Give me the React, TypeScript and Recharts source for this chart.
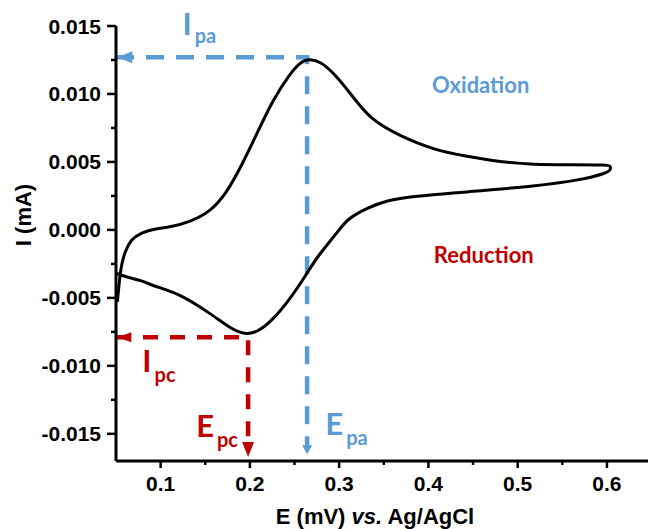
import { LineChart, Line, XAxis, YAxis, ReferenceDot } from 'recharts';

// cyclic voltammogram, forward scan then reverse scan (E in V, I in mA)
const cvPotential = [
    0.0515, 0.053, 0.0545, 0.0567, 0.0601, 0.0668, 0.078, 0.0948, 0.1105, 0.133,
    0.155, 0.174, 0.192, 0.208, 0.226, 0.245, 0.256, 0.265, 0.279, 0.293,
    0.312, 0.3348, 0.3684, 0.4054, 0.4435, 0.4805, 0.5175, 0.559, 0.6015, 0.604,
    0.604, 0.6, 0.5735, 0.5175, 0.443, 0.387, 0.3535, 0.331, 0.3086, 0.298,
    0.275, 0.264, 0.245, 0.223, 0.208, 0.197, 0.181, 0.155, 0.118, 0.0948,
    0.078, 0.0635, 0.0545, 0.051,
];
const cvCurrent = [
    -0.0053, -0.0043, -0.0033, -0.0024, -0.0016, -0.0007, -0.0002, 0.0001, 0.0002, 0.0006,
    0.0013, 0.0027, 0.0049, 0.0071, 0.0096, 0.0115, 0.0123, 0.0126, 0.0124, 0.0116,
    0.0101, 0.0081, 0.0069, 0.0059, 0.0054, 0.005, 0.0048, 0.0048, 0.0048, 0.0047,
    0.0044, 0.0042, 0.0037, 0.0032, 0.0028, 0.0025, 0.0022, 0.0016, 0.0008, -0.0002,
    -0.002, -0.0032, -0.0051, -0.0068, -0.0075, -0.0077, -0.0074, -0.0061, -0.0046, -0.0042,
    -0.0037, -0.0035, -0.0033, -0.0032,
];

// peak positions
const anodicPeak = { e: 0.2641, i: 0.0127 };
const cathodicPeak = { e: 0.198, i: -0.0079 };

const xMajorTicks = [0.1, 0.2, 0.3, 0.4, 0.5, 0.6];
const xMinorTicks = [0.15, 0.25, 0.35, 0.45, 0.55];
const yMajorTicks = [-0.015, -0.01, -0.005, 0, 0.005, 0.01, 0.015];
const yMinorTicks = [-0.0125, -0.0075, -0.0025, 0.0025, 0.0075, 0.0125];

const X_DOMAIN: [number, number] = [0.05, 0.646];
const Y_DOMAIN: [number, number] = [-0.017, 0.015];

const BLUE = '#5B9BD5';
const RED = '#C00000';
const TICK_FONT = '"Liberation Sans", Arial, sans-serif';
const NOTE_FONT = 'Lato, "Open Sans", sans-serif';

const cvData = cvPotential.map((e, k) => ({ e, i: cvCurrent[k] }));

const anodicGuide = [
    { e: X_DOMAIN[0], i: anodicPeak.i },
    { e: anodicPeak.e, i: anodicPeak.i },
    { e: anodicPeak.e, i: -0.0162 },
];
const cathodicGuide = [
    { e: X_DOMAIN[0], i: cathodicPeak.i },
    { e: cathodicPeak.e, i: cathodicPeak.i },
    { e: cathodicPeak.e, i: -0.0162 },
];

const isMajor = (v: number, step: number) => Math.abs(v / step - Math.round(v / step)) < 1e-6;

const XTick = ({ x, y, payload }: any) => {
    const major = isMajor(payload.value, 0.1);
    return (
        <g>
            <line x1={x} y1={y} x2={x} y2={y + (major ? 7 : 4)} stroke="#000" strokeWidth={2.5} />
            {major && (
                <text x={x} y={y + 30} textAnchor="middle" fontSize={21} fontWeight="bold" fontFamily={TICK_FONT} fill="#000">
                    {payload.value.toFixed(1)}
                </text>
            )}
        </g>
    );
};

const YTick = ({ x, y, payload }: any) => {
    const major = isMajor(payload.value, 0.005);
    return (
        <g>
            <line x1={x} y1={y} x2={x - (major ? 9 : 5)} y2={y} stroke="#000" strokeWidth={2.5} />
            {major && (
                <text x={x - 15} y={y + 7.5} textAnchor="end" fontSize={21} fontWeight="bold" fontFamily={TICK_FONT} fill="#000">
                    {payload.value.toFixed(3)}
                </text>
            )}
        </g>
    );
};

// arrow heads drawn at the tip point
const arrowHead = (dir: 'left' | 'down', color: string, len: number, half: number) => (props: any) => {
    const { cx, cy } = props;
    const pts = dir === 'left'
        ? `${cx},${cy} ${cx + len},${cy - half} ${cx + len},${cy + half}`
        : `${cx},${cy} ${cx - half},${cy - len} ${cx + half},${cy - len}`;
    return <polygon points={pts} fill={color} />;
};

const peakLabel = (main: string, sub: string, color: string, subDy: number) => (props: any) => {
    const { cx, cy } = props;
    return (
        <text x={cx} y={cy} fill={color} fontFamily={NOTE_FONT} fontWeight="bold">
            <tspan fontSize={31}>{main}</tspan>
            <tspan fontSize={20} dx={3} dy={subDy}>{sub}</tspan>
        </text>
    );
};

const wordLabel = (word: string, color: string) => (props: any) => (
    <text x={props.cx} y={props.cy} fill={color} fontFamily={NOTE_FONT} fontWeight="bold" fontSize={22} textAnchor="middle">
        {word}
    </text>
);

const XTitle = ({ viewBox }: any) => (
    <text x={viewBox.x + viewBox.width / 2 - 7} y={viewBox.y + 63} textAnchor="middle" fontSize={22} fontWeight="bold" fontFamily={TICK_FONT} fill="#000">
        E (mV) <tspan fontStyle="italic">vs.</tspan> Ag/AgCl
    </text>
);

const YTitle = () => (
    <text x={31} y={215} transform="rotate(-90, 31, 215)" textAnchor="middle" fontSize={22} fontWeight="bold" fontFamily={TICK_FONT} fill="#000">
        I (mA)
    </text>
);

const App = () => {
    return (
        <div style={{ position: 'absolute', left: 0, top: 0, width: 648, height: 529, background: '#fff' }}>
            <LineChart width={648} height={529} margin={{ top: 26, right: 0, bottom: 0, left: 0 }}>
                <XAxis
                    dataKey="e"
                    type="number"
                    domain={X_DOMAIN}
                    allowDataOverflow
                    ticks={[...xMajorTicks, ...xMinorTicks]}
                    interval={0}
                    tickSize={0}
                    tickMargin={0}
                    tickLine={false}
                    tick={<XTick />}
                    height={68}
                    axisLine={{ stroke: '#000', strokeWidth: 3 }}
                    label={<XTitle />}
                />
                <YAxis
                    dataKey="i"
                    type="number"
                    domain={Y_DOMAIN}
                    allowDataOverflow
                    ticks={[...yMajorTicks, ...yMinorTicks]}
                    interval={0}
                    tickSize={0}
                    tickMargin={0}
                    tickLine={false}
                    tick={<YTick />}
                    width={116}
                    axisLine={{ stroke: '#000', strokeWidth: 3 }}
                    label={<YTitle />}
                />
                <Line
                    data={anodicGuide}
                    dataKey="i"
                    type="linear"
                    stroke={BLUE}
                    strokeWidth={4.5}
                    strokeDasharray="18 12"
                    dot={false}
                    isAnimationActive={false}
                />
                <Line
                    data={cathodicGuide}
                    dataKey="i"
                    type="linear"
                    stroke={RED}
                    strokeWidth={4.5}
                    strokeDasharray="15 12"
                    dot={false}
                    isAnimationActive={false}
                />
                <Line
                    data={cvData}
                    dataKey="i"
                    type="basis"
                    stroke="#000"
                    strokeWidth={3}
                    dot={false}
                    isAnimationActive={false}
                />
                <ReferenceDot x={0.0515} y={anodicPeak.i} r={0} shape={arrowHead('left', BLUE, 15, 6)} />
                <ReferenceDot x={anodicPeak.e} y={-0.0165} r={0} shape={arrowHead('down', BLUE, 9, 5)} />
                <ReferenceDot x={0.0515} y={cathodicPeak.i} r={0} shape={arrowHead('left', RED, 14, 5)} />
                <ReferenceDot x={cathodicPeak.e} y={-0.0167} r={0} shape={arrowHead('down', RED, 15, 6)} />
                <ReferenceDot x={0.1245} y={0.01434} r={0} shape={peakLabel('I', 'pa', BLUE, 8)} />
                <ReferenceDot x={0.0795} y={-0.01044} r={0} shape={peakLabel('I', 'pc', RED, 10)} />
                <ReferenceDot x={0.1398} y={-0.01522} r={0} shape={peakLabel('E', 'pc', RED, 10)} />
                <ReferenceDot x={0.2845} y={-0.01507} r={0} shape={peakLabel('E', 'pa', BLUE, 10)} />
                <ReferenceDot x={0.4586} y={0.01007} r={0} shape={wordLabel('Oxidation', BLUE)} />
                <ReferenceDot x={0.462} y={-0.00243} r={0} shape={wordLabel('Reduction', RED)} />
            </LineChart>
        </div>
    );
};

export default App;
